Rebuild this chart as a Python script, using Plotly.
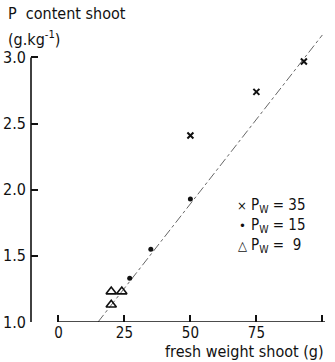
import plotly.graph_objects as go

# Data
x35 = [50, 75, 93]
y35 = [2.41, 2.74, 2.97]
x15 = [27, 35, 50]
y15 = [1.33, 1.55, 1.93]
x9 = [20, 24, 20]
y9 = [1.23, 1.23, 1.13]
fit_x = [15, 100]
fit_y = [1.0, 3.17]
xticks = [0, 25, 50, 75, 100]
yticks = [1.0, 1.5, 2.0, 2.5, 3.0]
legend_symbols = ["×", "•", "△"]
legend_labels = ["P<sub>W</sub> = 35", "P<sub>W</sub> = 15", "P<sub>W</sub> =  9"]

FONT = "DejaVu Sans Condensed, DejaVu Sans, sans-serif"
INK = "#111111"

L, R, T, B = 31, 10, 31, 40
W, H = 335, 362
pw, ph = W - L - R, H - T - B


def px2paper(px, py):
    return (px - L) / pw, (H - B - py) / ph


fig = go.Figure()
fig.add_trace(go.Scatter(x=fit_x, y=fit_y, mode="lines",
                         line=dict(color="#666666", width=1, dash="dashdot"),
                         showlegend=False, hoverinfo="skip"))
fig.add_trace(go.Scatter(x=x35, y=y35, mode="markers",
                         marker=dict(symbol="x-thin", size=6, color=INK,
                                     line=dict(width=2, color=INK)),
                         showlegend=False))
fig.add_trace(go.Scatter(x=x15, y=y15, mode="markers",
                         marker=dict(symbol="circle", size=5, color=INK),
                         showlegend=False))
fig.add_trace(go.Scatter(x=x9, y=y9, mode="markers",
                         marker=dict(symbol="triangle-up-open", size=9, color=INK,
                                     line=dict(width=1.6, color=INK)),
                         showlegend=False))

# axis lines
fig.add_shape(type="line", xref="x", yref="y", x0=0, x1=101, y0=1.0, y1=1.0,
              line=dict(color=INK, width=1.6))
fig.add_shape(type="line", xref="paper", yref="y", x0=0, x1=0, y0=1.0, y1=3.0,
              line=dict(color=INK, width=1.6))

fig.update_xaxes(range=[-10.4, 101], tickvals=xticks, ticktext=[str(v) for v in xticks],
                 ticks="inside", ticklen=7, tickwidth=1.5, tickcolor=INK,
                 showgrid=False, zeroline=False, showline=False, automargin=False,
                 tickfont=dict(family=FONT, size=15, color=INK))
fig.update_yaxes(range=[1.0, 3.2], tickvals=yticks, ticktext=[f"{v:.1f}" for v in yticks],
                 ticks="inside", ticklen=7, tickwidth=1.5, tickcolor=INK,
                 showgrid=False, zeroline=False, showline=False, automargin=False,
                 ticklabelstandoff=4,
                 tickfont=dict(family=FONT, size=16, color=INK))

annots = [
    dict(text="P  content shoot", x=6, y=14),
    dict(text="(g.kg<sup>-1</sup>)", x=6, y=38),
]
for a in annots:
    ax, ay = px2paper(a["x"], a["y"])
    fig.add_annotation(text=a["text"], xref="paper", yref="paper", x=ax, y=ay,
                       xanchor="left", yanchor="middle", showarrow=False,
                       font=dict(family=FONT, size=16, color=INK))

ax, ay = px2paper(326, 351)
fig.add_annotation(text="fresh weight shoot (g)", xref="paper", yref="paper", x=ax, y=ay,
                   xanchor="right", yanchor="middle", showarrow=False,
                   font=dict(family=FONT, size=16, color=INK))

for i, (sym, lab) in enumerate(zip(legend_symbols, legend_labels)):
    sx, sy = px2paper(242, 205 + i * 20)
    fig.add_annotation(text=sym, xref="paper", yref="paper", x=sx, y=sy,
                       xanchor="center", yanchor="middle", showarrow=False,
                       font=dict(family=FONT, size=13, color=INK))
    tx, ty = px2paper(249, 205 + i * 20)
    fig.add_annotation(text=lab, xref="paper", yref="paper", x=tx, y=ty,
                       xanchor="left", yanchor="middle", showarrow=False,
                       font=dict(family=FONT, size=15, color=INK))

fig.update_layout(width=W, height=H, margin=dict(l=L, r=R, t=T, b=B),
                  paper_bgcolor="white", plot_bgcolor="white", showlegend=False)

fig.write_html("out.html")
